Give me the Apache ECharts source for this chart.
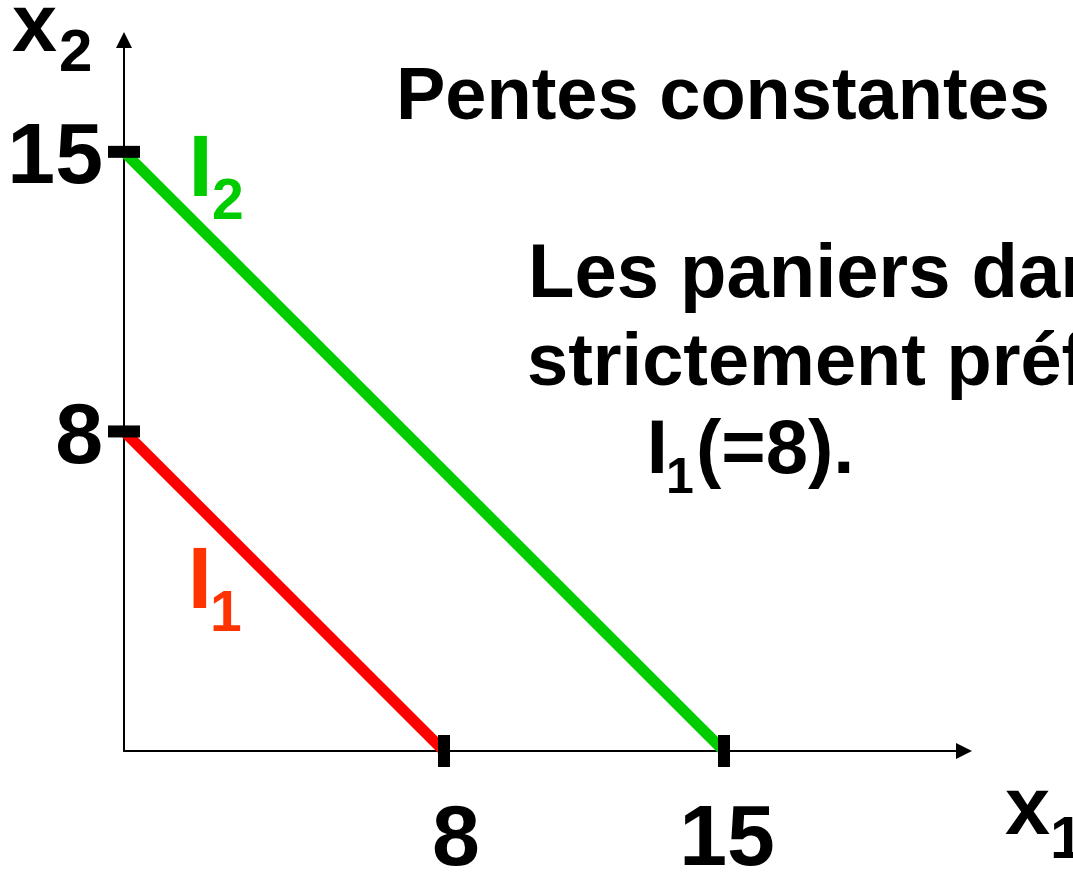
<!DOCTYPE html>
<html>
<head>
<meta charset="utf-8">
<script src="https://cdn.jsdelivr.net/npm/echarts@6/dist/echarts.min.js"></script>
<style>
  html, body { margin: 0; padding: 0; background: #fff; }
  #chart { width: 1073px; height: 876px; }
</style>
</head>
<body>
<div id="chart"></div>
<script>
// Two indifference curves with constant slope (perfect substitutes)
const tickValues = [8, 15];
const tickLabels = ['8', '15'];
const curveI1 = [[0, 8], [8, 0]];
const curveI2 = [[0, 15], [15, 0]];

const FONT = '"Liberation Sans", Arial, sans-serif';
const labelOffsetX = { 8: 12, 15: 3 };
const labelOffsetY = { 8: 8, 15: 7 };

const xTickData = tickValues.map((v, i) => ({
  value: [v, 0],
  label: { formatter: tickLabels[i], offset: [labelOffsetX[v], 0] }
}));
const yTickData = tickValues.map((v, i) => ({
  value: [0, v],
  label: { formatter: tickLabels[i], offset: [0, labelOffsetY[v]] }
}));

const tickLabelStyle = {
  show: true,
  color: '#000',
  fontFamily: FONT,
  fontWeight: 'bold',
  fontSize: 86
};

const axisCommon = {
  type: 'value',
  min: 0,
  axisLine: {
    show: true,
    onZero: false,
    symbol: ['none', 'triangle'],
    symbolSize: [16, 16],
    lineStyle: { color: '#000', width: 2 }
  },
  axisTick: { show: false },
  axisLabel: { show: false },
  splitLine: { show: false }
};

// Plain bold text helper
function txt(text, x, y, size, color) {
  return {
    type: 'text', x: x, y: y, z: 10,
    style: {
      text: text, fill: color, fontFamily: FONT, fontWeight: 'bold',
      fontSize: size, align: 'left', verticalAlign: 'middle'
    }
  };
}

const chart = echarts.init(document.getElementById('chart'), null, { renderer: 'canvas' });
chart.setOption({
  animation: false,
  backgroundColor: '#fff',
  grid: { left: 124, right: 109, top: 40, bottom: 125 },
  xAxis: Object.assign({}, axisCommon, { max: 21 }),
  yAxis: Object.assign({}, axisCommon, { max: 17.8 }),
  series: [
    {
      name: 'I1', type: 'line', data: curveI1, symbol: 'none', clip: false, z: 3,
      lineStyle: { color: '#ff0000', width: 11 }
    },
    {
      name: 'I2', type: 'line', data: curveI2, symbol: 'none', clip: false, z: 3,
      lineStyle: { color: '#00cc00', width: 11 }
    },
    {
      name: 'x ticks', type: 'scatter', data: xTickData, symbol: 'rect',
      symbolSize: [12, 32], clip: false, z: 4,
      itemStyle: { color: '#000', opacity: 1 },
      label: Object.assign({}, tickLabelStyle, { position: 'bottom', distance: 31 })
    },
    {
      name: 'y ticks', type: 'scatter', data: yTickData, symbol: 'rect',
      symbolSize: [32, 12], clip: false, z: 4,
      itemStyle: { color: '#000', opacity: 1 },
      label: Object.assign({}, tickLabelStyle, { position: 'left', distance: 5 })
    }
  ],
  graphic: [
    // axis names
    txt('x', 12, 29, 81, '#000'),
    txt('2', 59, 54.5, 60, '#000'),
    txt('x', 1005, 812, 81, '#000'),
    txt('1', 1050, 841, 60, '#000'),
    // curve names
    txt('I', 188.4, 171.7, 87, '#00cc00'),
    txt('2', 212, 203, 57, '#00cc00'),
    txt('I', 187.7, 583.8, 87, '#ff3300'),
    txt('1', 210, 615.5, 57, '#ff3300'),
    // annotation
    txt('Pentes constantes', 396, 98.7, 74, '#000'),
    txt('Les paniers dans', 528, 275.8, 76, '#000'),
    txt('strictement préférés', 527, 364.8, 74, '#000'),
    txt('I', 646.8, 452.5, 76, '#000'),
    txt('1', 666, 479.4, 50, '#000'),
    txt('(=8).', 696, 452.5, 76, '#000')
  ]
});
</script>
</body>
</html>
